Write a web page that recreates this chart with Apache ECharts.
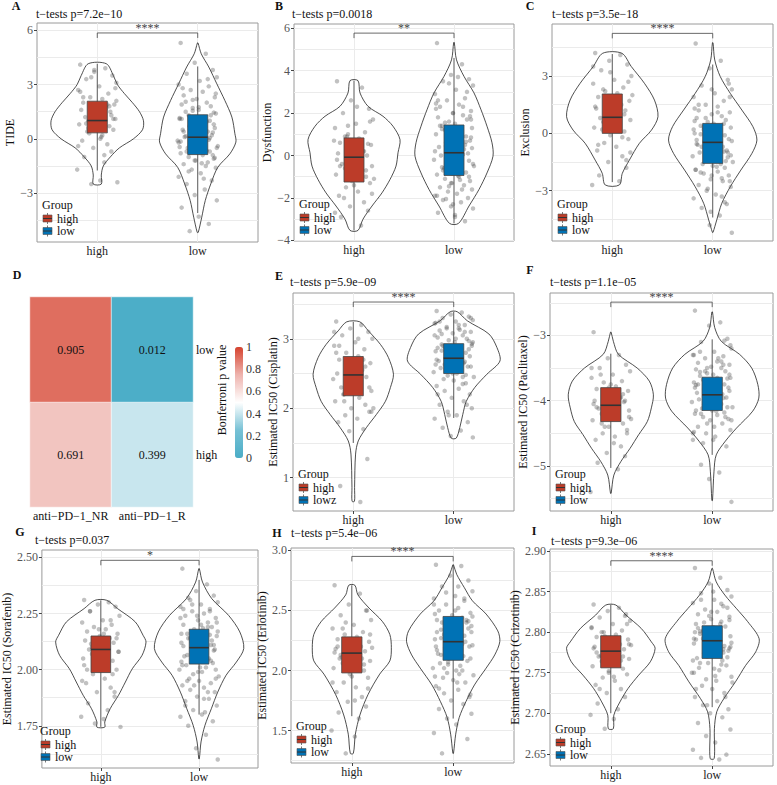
<!DOCTYPE html>
<html>
<head>
<meta charset="utf-8">
<script src="https://cdn.jsdelivr.net/npm/echarts@6/dist/echarts.min.js"></script>
<style>
  html, body { margin: 0; padding: 0; background: #fff; }
  #chart { width: 777px; height: 785px; }
</style>
</head>
<body>
<div id="chart"></div>
<script>
const groups = ['high', 'low'];
const highColor = '#BC3C29';
const lowColor = '#0072B5';
const font = '"Liberation Serif", "Times New Roman", serif';

// horizontal jitter of the points (x units, around each group centre)
const jitter = [-0.17,0.08,-0.03,0.15,-0.11,0.19,0.02,-0.19,0.11,-0.07,
  0.05,-0.14,0.17,-0.01,0.09,-0.16,0.13,-0.05,0.01,-0.12,
  0.18,-0.09,0.06,-0.18,0.12,-0.02,0.16,-0.08,0.04,-0.15,
  0.10,-0.04,0.14,-0.13,0.07,-0.20,0.03,-0.06,0.20,-0.10,
  0.00,0.12,-0.17,0.05,-0.09,0.16,-0.02,0.10,-0.14,0.18,
  -0.06,0.03,-0.19,0.14,-0.11,0.07,-0.03,0.19,-0.16,0.01,
  0.11,-0.08,0.15,-0.12,0.04,-0.18,0.09,-0.05,0.17,-0.01];

// ---- A: TIDE ----  violin = [value, half width], box = [lowW, q1, median, q3, highW]
const tideHighViolin = [[-2.5,0.04],[-2.0,0.04],[-1.5,0.06],[-1.0,0.13],[-0.5,0.22],[0,0.36],[0.5,0.45],[1.0,0.46],[1.5,0.42],[2.0,0.35],[2.5,0.27],[3.0,0.2],[3.5,0.16],[4.15,0.09]];
const tideLowViolin = [[-5.17,0.005],[-4.33,0.04],[-3.41,0.075],[-2.49,0.13],[-1.57,0.2],[-0.83,0.32],[-0.18,0.38],[0.28,0.37],[1.2,0.34],[2.12,0.27],[3.04,0.19],[3.97,0.11],[4.7,0.035],[5.3,0.003]];
const tideHighBox = [-1.75, 0.33, 1.01, 2.08, 4.15];
const tideLowBox = [-4.1, -0.87, 0.09, 1.33, 4.0];
const tideHighPts = [4.1,3.9,3.7,3.5,3.3,3.1,2.9,2.7,2.5,2.3,2.2,2.0,1.9,1.8,1.7,1.6,1.5,1.4,1.3,1.2,1.1,1.0,0.9,0.8,0.7,0.6,0.5,0.3,0.1,-0.1,-0.3,-0.5,-0.7,-1.0,-1.3,-1.7,-2.3,-2.5,-2.4,0.4,1.0,1.8,2.6,
  0.2,0.6,1.1,1.5,1.9,2.3,2.8,3.4,0.0,-0.4,1.3,0.85,-0.9,3.8,2.1];
const tideLowPts = [5.3,4.7,4.2,3.8,3.6,3.4,3.2,3.0,2.9,2.7,2.6,2.4,2.3,2.2,2.0,1.9,1.8,1.7,1.6,1.5,1.4,1.3,1.2,1.1,1.0,0.9,0.8,0.7,0.6,0.5,0.4,0.3,0.2,0.1,0.0,-0.1,-0.2,-0.3,-0.4,-0.5,-0.6,-0.7,-0.8,-0.9,-1.0,-1.1,-1.2,-1.3,-1.4,-1.6,-1.7,-1.9,-2.1,-2.3,-2.5,-2.8,-3.1,-3.4,-3.8,-4.3,-4.7,-5.1,0.35,0.15,-0.25,1.15,-0.65,2.15,-1.05,0.55,-0.15,
  -1.5,-1.2,-0.9,-0.7,-0.5,-0.35,-0.2,-0.05,0.1,0.25,0.4,0.6,0.75,0.95,1.1,1.3,1.55,1.75,2.05,2.5,-1.8,-2.2,-0.45,0.05,0.7,1.45,-0.75,-1.35,2.8,3.3];

// ---- B: Dysfunction ----
const dysHighViolin = [[-3.53,0.04],[-3.0,0.09],[-2.38,0.18],[-1.76,0.28],[-1.13,0.36],[-0.5,0.42],[0.13,0.44],[0.75,0.46],[1.38,0.39],[1.85,0.29],[2.32,0.14],[2.95,0.06],[3.53,0.04]];
const dysLowViolin = [[-3.2,0.045],[-2.38,0.15],[-1.6,0.25],[-0.82,0.33],[-0.03,0.39],[0.6,0.38],[1.38,0.33],[2.16,0.27],[2.95,0.2],[3.73,0.1],[4.51,0.025],[5.33,0.003]];
const dysHighBox = [-3.53, -1.25, -0.08, 0.83, 3.53];
const dysLowBox = [-3.2, -0.94, 0.13, 1.44, 4.6];
const dysHighPts = [3.5,3.2,2.6,2.2,2.0,1.7,1.5,1.3,1.1,0.9,0.8,0.6,0.5,0.3,0.2,0.1,0.0,-0.1,-0.2,-0.4,-0.5,-0.6,-0.8,-0.9,-1.0,-1.2,-1.3,-1.5,-1.7,-1.9,-2.2,-2.4,-2.6,-2.9,-3.3,0.7,-0.3,1.4,-1.1,
  -2.0,-1.4,-0.7,-0.2,0.4,0.9,1.6,-1.0,0.2,-0.5,-1.8,1.0,2.3,-2.7,0.55];
const dysLowPts = [5.3,4.3,3.8,3.6,3.5,3.3,3.1,2.9,2.7,2.6,2.4,2.3,2.1,2.0,1.9,1.8,1.7,1.6,1.5,1.4,1.3,1.2,1.1,1.0,0.9,0.8,0.7,0.6,0.5,0.4,0.3,0.2,0.1,0.0,-0.1,-0.2,-0.3,-0.4,-0.5,-0.6,-0.7,-0.8,-0.9,-1.0,-1.1,-1.2,-1.3,-1.4,-1.5,-1.6,-1.7,-1.8,-1.9,-2.0,-2.1,-2.2,-2.4,-2.5,-2.7,-2.9,-3.1,0.45,-0.25,1.25,-0.95,2.2,0.05,-1.45,0.85,
  -2.3,-1.9,-1.6,-1.3,-1.0,-0.7,-0.4,-0.1,0.2,0.5,0.8,1.1,1.4,1.7,2.0,2.3,2.6,3.0,3.4,-2.8,-0.55,0.35,1.55,-1.15,2.45,0.65,-0.85,1.85,-2.05,3.7];

// ---- C: Exclusion ----
const excHighViolin = [[-2.7,0.07],[-2.09,0.1],[-1.4,0.17],[-0.52,0.27],[0.17,0.39],[0.87,0.455],[1.74,0.42],[2.62,0.32],[3.49,0.19],[4.19,0.095]];
const excLowViolin = [[-5.18,0.003],[-4.53,0.04],[-3.66,0.09],[-2.79,0.175],[-1.92,0.28],[-1.05,0.39],[-0.35,0.44],[0.35,0.4],[1.22,0.29],[2.09,0.175],[2.97,0.075],[3.84,0.02],[4.74,0.003]];
const excHighBox = [-2.55, 0.0, 0.84, 2.06, 4.15];
const excLowBox = [-4.4, -1.57, -0.47, 0.52, 3.6];
const excHighPts = [4.2,4.1,3.8,3.6,3.3,3.0,2.8,2.6,2.4,2.2,2.1,1.9,1.7,1.6,1.5,1.3,1.2,1.0,0.9,0.8,0.7,0.6,0.4,0.3,0.1,-0.1,-0.3,-0.5,-0.7,-0.9,-1.2,-1.5,-1.8,-2.2,-2.5,-2.7,1.1,0.5,2.0,
  0.2,0.6,1.0,1.4,1.8,2.3,2.7,3.2,-0.2,-0.6,-1.0,1.6,0.8,3.5,-1.4];
const excLowPts = [4.7,3.8,3.4,2.8,2.5,2.3,2.1,1.9,1.7,1.5,1.4,1.2,1.1,1.0,0.9,0.8,0.7,0.6,0.5,0.4,0.3,0.2,0.1,0.0,-0.1,-0.2,-0.3,-0.4,-0.5,-0.6,-0.7,-0.8,-0.9,-1.0,-1.1,-1.2,-1.3,-1.4,-1.5,-1.6,-1.7,-1.8,-1.9,-2.0,-2.1,-2.2,-2.4,-2.5,-2.7,-2.8,-3.0,-3.2,-3.4,-3.7,-3.9,-4.3,-4.8,-5.2,-0.35,-0.65,-0.95,0.25,-1.25,-0.05,-1.75,0.65,-2.35,
  -2.9,-2.5,-2.2,-1.9,-1.6,-1.3,-1.0,-0.7,-0.4,-0.1,0.2,0.5,0.8,1.1,1.5,1.9,2.3,-3.3,-0.55,-1.45,-0.85,0.05,-2.05,-1.15,0.35,-0.25,1.3,-3.6,-4.1,2.6];

// ---- E: Cisplatin ----
const cisHighViolin = [[0.66,0.012],[0.86,0.013],[1.34,0.023],[1.53,0.05],[1.72,0.13],[1.91,0.23],[2.1,0.32],[2.3,0.37],[2.49,0.4],[2.73,0.35],[2.92,0.27],[3.115,0.15],[3.245,0.065]];
const cisLowViolin = [[1.57,0.025],[1.72,0.06],[1.91,0.09],[2.1,0.125],[2.3,0.21],[2.49,0.33],[2.68,0.46],[2.875,0.43],[3.07,0.35],[3.26,0.135],[3.39,0.035]];
const cisHighBox = [1.5, 2.18, 2.48, 2.745, 3.245];
const cisLowBox = [1.86, 2.5, 2.72, 2.93, 3.39];
const cisHighPts = [3.25,3.2,3.15,3.1,3.05,3.0,2.95,2.9,2.85,2.8,2.75,2.7,2.65,2.6,2.55,2.5,2.45,2.4,2.35,2.3,2.25,2.2,2.15,2.1,2.05,2.0,1.95,1.9,1.85,1.8,1.7,1.67,1.27,0.88,0.65,2.42,2.62,2.28,
  2.0,2.2,2.4,2.6,2.8,3.0,2.1,2.3,2.5,2.7,2.9,1.95,2.55,2.35,3.1];
const cisLowPts = [3.4,3.38,3.35,3.32,3.3,3.27,3.25,3.22,3.2,3.17,3.15,3.12,3.1,3.08,3.05,3.02,3.0,2.98,2.95,2.92,2.9,2.88,2.85,2.82,2.8,2.78,2.75,2.72,2.7,2.68,2.65,2.62,2.6,2.58,2.55,2.52,2.5,2.47,2.45,2.42,2.4,2.36,2.32,2.28,2.25,2.2,2.15,2.1,2.05,2.0,1.95,1.9,1.85,1.8,1.72,1.68,1.6,1.58,2.87,2.77,2.67,2.57,2.97,3.07,2.53,2.63,
  2.45,2.55,2.6,2.65,2.7,2.75,2.8,2.85,2.9,2.95,3.0,3.05,3.1,3.15,3.2,3.25,3.3,2.5,2.35,2.2,2.05,1.9,2.73,2.83,2.93,2.63,3.13,3.23,2.48,2.78];

// ---- F: Paclitaxel ----
const pacHighViolin = [[-5.42,0.003],[-5.14,0.03],[-4.93,0.1],[-4.73,0.19],[-4.52,0.275],[-4.32,0.36],[-4.11,0.4],[-3.91,0.42],[-3.7,0.38],[-3.5,0.26],[-3.29,0.075],[-3.09,0.025],[-2.95,0.003]];
const pacLowViolin = [[-5.53,0.003],[-5.08,0.018],[-4.83,0.04],[-4.62,0.13],[-4.42,0.24],[-4.16,0.4],[-3.96,0.46],[-3.75,0.45],[-3.5,0.39],[-3.29,0.27],[-3.09,0.09],[-2.88,0.025],[-2.64,0.003]];
const pacHighBox = [-5.03, -4.32, -4.07, -3.8, -3.28];
const pacLowBox = [-4.83, -4.15, -3.91, -3.64, -3.06];
const pacHighPts = [-2.95,-3.3,-3.35,-3.45,-3.5,-3.55,-3.6,-3.65,-3.7,-3.72,-3.78,-3.82,-3.85,-3.9,-3.95,-4.0,-4.02,-4.05,-4.1,-4.12,-4.15,-4.2,-4.25,-4.3,-4.35,-4.4,-4.45,-4.5,-4.55,-4.6,-4.7,-4.8,-4.85,-4.95,-5.05,-5.4,-3.88,-4.08,-4.28,
  -3.6,-3.75,-3.9,-4.05,-4.2,-4.35,-4.5,-3.8,-3.95,-4.1,-4.25,-4.4,-4.65,-3.5,-4.0];
const pacLowPts = [-2.62,-2.8,-2.85,-3.05,-3.1,-3.2,-3.25,-3.3,-3.32,-3.35,-3.4,-3.42,-3.45,-3.48,-3.5,-3.52,-3.55,-3.58,-3.6,-3.62,-3.65,-3.68,-3.7,-3.72,-3.75,-3.78,-3.8,-3.82,-3.85,-3.88,-3.9,-3.92,-3.95,-3.98,-4.0,-4.02,-4.05,-4.08,-4.1,-4.12,-4.15,-4.18,-4.2,-4.22,-4.25,-4.28,-4.3,-4.35,-4.4,-4.45,-4.5,-4.55,-4.6,-4.7,-4.98,-5.1,-5.2,-5.55,-3.76,-3.86,-3.96,-4.06,-3.66,-3.56,-4.16,
  -3.3,-3.4,-3.5,-3.6,-3.7,-3.8,-3.9,-4.0,-4.1,-4.2,-4.3,-4.4,-4.5,-3.45,-3.55,-3.65,-3.75,-3.85,-3.95,-4.05,-4.15,-4.25,-4.35,-4.6,-3.25,-3.15,-4.65,-3.35,-4.48,-3.08];

// ---- G: Sorafenib ----
const sorHighViolin = [[1.744,0.04],[1.767,0.04],[1.826,0.095],[1.886,0.18],[1.945,0.25],[2.004,0.32],[2.064,0.42],[2.123,0.46],[2.153,0.43],[2.213,0.35],[2.272,0.17],[2.309,0.06]];
const sorLowViolin = [[1.603,0.003],[1.678,0.02],[1.752,0.06],[1.826,0.125],[1.9,0.19],[1.975,0.275],[2.034,0.38],[2.094,0.455],[2.168,0.415],[2.242,0.3],[2.316,0.13],[2.39,0.035],[2.45,0.003]];
const sorHighBox = [1.745, 1.987, 2.09, 2.15, 2.309];
const sorLowBox = [1.8, 2.025, 2.098, 2.18, 2.4];
const sorHighPts = [2.31,2.3,2.29,2.28,2.26,2.24,2.22,2.21,2.2,2.19,2.18,2.17,2.16,2.15,2.14,2.13,2.12,2.11,2.1,2.09,2.08,2.07,2.06,2.05,2.04,2.02,2.0,1.98,1.96,1.94,1.92,1.9,1.88,1.85,1.82,1.79,1.78,1.76,1.745,2.115,2.065,
  1.98,2.02,2.06,2.1,2.14,2.18,2.22,2.0,2.08,2.12,2.16,1.95,1.9,2.26,2.04];
const sorLowPts = [2.45,2.38,2.35,2.33,2.32,2.3,2.29,2.28,2.27,2.26,2.25,2.24,2.23,2.22,2.21,2.2,2.19,2.18,2.17,2.16,2.15,2.14,2.13,2.12,2.11,2.1,2.09,2.08,2.07,2.06,2.05,2.04,2.03,2.02,2.01,2.0,1.99,1.98,1.97,1.96,1.95,1.94,1.93,1.92,1.91,1.9,1.88,1.87,1.86,1.84,1.82,1.8,1.79,1.77,1.75,1.71,1.65,1.6,2.105,2.095,2.155,2.125,2.085,2.065,2.185,2.035,
  1.9,1.93,1.96,1.99,2.02,2.05,2.08,2.11,2.14,2.17,2.2,2.23,2.26,2.29,1.87,1.84,2.0,2.1,2.19,2.27,2.13,2.07,2.01,1.95,2.21,2.31,1.81,2.16,2.04,2.24];

// ---- H: Erlotinib ----
const erlHighViolin = [[1.31,0.015],[1.47,0.035],[1.63,0.08],[1.8,0.16],[1.97,0.275],[2.08,0.375],[2.19,0.39],[2.3,0.375],[2.41,0.3],[2.52,0.17],[2.63,0.06],[2.71,0.03]];
const erlLowViolin = [[1.31,0.003],[1.47,0.025],[1.61,0.06],[1.74,0.125],[1.88,0.21],[2.02,0.325],[2.13,0.41],[2.24,0.46],[2.33,0.44],[2.47,0.325],[2.58,0.19],[2.69,0.11],[2.8,0.035],[2.88,0.003]];
const erlHighBox = [1.62, 1.98, 2.145, 2.28, 2.71];
const erlLowBox = [1.6, 2.085, 2.24, 2.45, 2.88];
const erlHighPts = [2.71,2.64,2.55,2.5,2.46,2.42,2.38,2.35,2.32,2.3,2.28,2.26,2.24,2.22,2.2,2.18,2.16,2.14,2.12,2.1,2.08,2.06,2.04,2.02,2.0,1.97,1.94,1.9,1.86,1.82,1.78,1.74,1.7,1.65,1.6,1.5,1.45,1.31,2.19,2.11,
  1.95,2.05,2.15,2.25,2.35,1.85,2.0,2.1,2.2,2.3,2.4,1.75,1.9,2.5,2.13];
const erlLowPts = [2.88,2.87,2.79,2.75,2.7,2.66,2.62,2.6,2.58,2.55,2.52,2.5,2.48,2.46,2.44,2.42,2.4,2.38,2.36,2.34,2.32,2.3,2.28,2.26,2.24,2.22,2.2,2.18,2.16,2.14,2.12,2.1,2.08,2.06,2.04,2.02,2.0,1.98,1.96,1.94,1.92,1.9,1.87,1.84,1.81,1.78,1.75,1.72,1.68,1.64,1.6,1.55,1.48,1.43,1.31,2.25,2.27,2.21,2.17,2.35,2.29,2.19,2.41,2.13,
  1.9,1.95,2.0,2.05,2.1,2.15,2.2,2.25,2.3,2.35,2.4,2.45,2.5,2.55,2.6,2.65,2.7,1.85,1.8,2.12,2.22,2.32,2.42,2.07,2.17,2.27,2.37,2.02,1.97,2.47];

// ---- I: Crizotinib ----
const crzHighViolin = [[2.681,0.025],[2.6977,0.03],[2.714,0.09],[2.7306,0.17],[2.747,0.275],[2.7635,0.39],[2.78,0.437],[2.788,0.4],[2.8046,0.3],[2.821,0.15],[2.8334,0.05]];
const crzLowViolin = [[2.6442,0.02],[2.681,0.022],[2.7018,0.045],[2.718,0.115],[2.7388,0.23],[2.759,0.33],[2.7758,0.43],[2.792,0.463],[2.813,0.35],[2.829,0.24],[2.8457,0.125],[2.862,0.04],[2.8786,0.003]];
const crzHighBox = [2.7, 2.756, 2.7766, 2.7956, 2.834];
const crzLowBox = [2.7075, 2.7676, 2.7894, 2.8079, 2.86];
const crzHighPts = [2.834,2.83,2.826,2.822,2.818,2.814,2.81,2.806,2.802,2.8,2.797,2.794,2.791,2.788,2.785,2.782,2.779,2.776,2.773,2.77,2.767,2.764,2.761,2.758,2.755,2.752,2.748,2.744,2.74,2.735,2.73,2.725,2.72,2.712,2.705,2.698,2.693,2.681,2.784,2.771,
  2.76,2.77,2.78,2.79,2.8,2.81,2.75,2.765,2.775,2.785,2.795,2.745,2.805,2.82,2.73];
const crzLowPts = [2.879,2.867,2.86,2.852,2.848,2.844,2.84,2.836,2.832,2.828,2.825,2.822,2.819,2.816,2.813,2.81,2.807,2.804,2.801,2.798,2.795,2.792,2.789,2.786,2.783,2.78,2.777,2.774,2.771,2.768,2.765,2.762,2.759,2.756,2.753,2.75,2.746,2.742,2.738,2.734,2.73,2.725,2.72,2.715,2.71,2.705,2.7,2.695,2.688,2.68,2.672,2.664,2.655,2.649,2.645,2.643,2.797,2.787,2.791,2.806,2.779,2.812,2.769,2.801,
  2.74,2.75,2.76,2.77,2.78,2.79,2.8,2.81,2.82,2.83,2.84,2.745,2.755,2.765,2.775,2.785,2.795,2.805,2.815,2.825,2.835,2.73,2.72,2.71,2.85,2.762,2.782,2.802,2.772,2.792];

// ---- D: heatmap ----
const heatCols = ['anti−PD−1_NR', 'anti−PD−1_R'];
const heatRows = ['high', 'low'];
const heatValues = [[0.691, 0.399], [0.905, 0.012]]; // rows: high, low
const colorbarTicks = [0, 0.2, 0.4, 0.6, 0.8, 1];

const panels = [
  { tag: 'A', box: [37, 23, 221, 219], range: [-5.7, 6.4], majors: [-3, 0, 3, 6], minors: [-4.5, -1.5, 1.5, 4.5], dec: 0,
    letter: [16, 6], title: [36, 14], p: 't−tests p=7.2e−10', yName: 'TIDE', gap: 18, bracket: 5.85, stars: '****', lowName: 'low',
    hv: tideHighViolin, lv: tideLowViolin, hb: tideHighBox, lb: tideLowBox, hp: tideHighPts, lp: tideLowPts },
  { tag: 'B', box: [294, 24, 220, 217], range: [-4.03, 6.2], majors: [-4, -2, 0, 2, 4, 6], minors: [-3, -1, 1, 3, 5], dec: 0,
    letter: [279, 6], title: [292, 14], p: 't−tests p=0.0018', yName: 'Dysfunction', gap: 18, bracket: 5.77, stars: '**', lowName: 'low',
    hv: dysHighViolin, lv: dysLowViolin, hb: dysHighBox, lb: dysLowBox, hp: dysHighPts, lp: dysLowPts },
  { tag: 'C', box: [552, 24, 221, 217], range: [-5.63, 5.72], majors: [-3, 0, 3], minors: [-4.5, -1.5, 1.5, 4.5], dec: 0,
    letter: [530, 6], title: [552, 14], p: 't−tests p=3.5e−18', yName: 'Exclusion', gap: 16, bracket: 5.23, stars: '****', lowName: 'low',
    hv: excHighViolin, lv: excLowViolin, hb: excHighBox, lb: excLowBox, hp: excHighPts, lp: excLowPts },
  { tag: 'E', box: [293, 293, 221, 218], range: [0.52, 3.66], majors: [1, 2, 3], minors: [1.5, 2.5, 3.5], dec: 0,
    letter: [279, 276], title: [290, 282], p: 't−tests p=5.9e−09', yName: 'Estimated IC50 (Cisplatin)', gap: 8, bracket: 3.53, stars: '****', lowName: 'lowz',
    hv: cisHighViolin, lv: cisLowViolin, hb: cisHighBox, lb: cisLowBox, hp: cisHighPts, lp: cisLowPts },
  { tag: 'F', box: [550, 293, 223, 218], range: [-5.69, -2.35], majors: [-5, -4, -3], minors: [-5.5, -4.5, -3.5, -2.5], dec: 0,
    letter: [530, 270], title: [550, 282], p: 't−tests p=1.1e−05', yName: 'Estimated IC50 (Paclitaxel)', gap: 16, bracket: -2.49, stars: '****', lowName: 'low',
    hv: pacHighViolin, lv: pacLowViolin, hb: pacHighBox, lb: pacLowBox, hp: pacHighPts, lp: pacLowPts },
  { tag: 'G', box: [35, 550, 223, 218], range: [1.562, 2.533], majors: [1.75, 2, 2.25, 2.5], minors: [1.625, 1.875, 2.125, 2.375], dec: 2,
    letter: [20, 532], title: [35, 540], p: 't−tests p=0.037', yName: 'Estimated IC50 (Sorafenib)', gap: 23, bracket: 2.487, stars: '*', lowName: 'low',
    hv: sorHighViolin, lv: sorLowViolin, hb: sorHighBox, lb: sorLowBox, hp: sorHighPts, lp: sorLowPts },
  { tag: 'H', box: [291, 548, 223, 215], range: [1.23, 3.02], majors: [1.5, 2, 2.5, 3], minors: [1.25, 1.75, 2.25, 2.75], dec: 1,
    letter: [277, 533], title: [291, 533], p: 't−tests p=5.4e−06', yName: 'Estimated IC50 (Erlotinib)', gap: 15, bracket: 2.95, stars: '****', lowName: 'low',
    hv: erlHighViolin, lv: erlLowViolin, hb: erlHighBox, lb: erlLowBox, hp: erlHighPts, lp: erlLowPts },
  { tag: 'I', box: [550, 549, 223, 217], range: [2.635, 2.9025], majors: [2.65, 2.7, 2.75, 2.8, 2.85, 2.9], minors: [2.675, 2.725, 2.775, 2.825, 2.875], dec: 2,
    letter: [534, 531], title: [551, 541], p: 't−tests p=9.3e−06', yName: 'Estimated IC50 (Crizotinib)', gap: 20, bracket: 2.888, stars: '****', lowName: 'low',
    hv: crzHighViolin, lv: crzLowViolin, hb: crzHighBox, lb: crzLowBox, hp: crzHighPts, lp: crzLowPts }
];

function fmt(v, dec) {
  const s = Math.abs(v).toFixed(dec);
  return v < -1e-9 ? '−' + s : s;
}

function violin(xi, yi, cx, prof) {
  return {
    type: 'custom', xAxisIndex: xi, yAxisIndex: yi, z: 1, silent: true,
    itemStyle: { color: '#222' },
    data: [[cx, prof[0][0]]],
    renderItem(params, api) {
      const right = prof.map(r => api.coord([cx + r[1], r[0]]));
      const left = prof.slice().reverse().map(r => api.coord([cx - r[1], r[0]]));
      return {
        type: 'polygon',
        shape: { points: right.concat(left), smooth: 0.3 },
        style: { fill: '#fff', stroke: '#222', lineWidth: 0.8 }
      };
    }
  };
}

function jitterPoints(xi, yi, cx, pts) {
  return {
    type: 'scatter', xAxisIndex: xi, yAxisIndex: yi, z: 2, silent: true,
    symbolSize: 4.5,
    itemStyle: { color: 'rgba(70,70,70,0.42)' },
    data: pts.map((y, i) => [cx + jitter[i % jitter.length], y])
  };
}

function boxplot(xi, yi, cx, b, color) {
  return {
    type: 'custom', xAxisIndex: xi, yAxisIndex: yi, z: 3, silent: true,
    itemStyle: { color: color },
    data: [[cx, b[2]]],
    renderItem(params, api) {
      const top = api.coord([cx, b[4]]), bot = api.coord([cx, b[0]]);
      const a = api.coord([cx - 0.1, b[3]]), c = api.coord([cx + 0.1, b[1]]);
      const m1 = api.coord([cx - 0.1, b[2]]), m2 = api.coord([cx + 0.1, b[2]]);
      return {
        type: 'group',
        children: [
          { type: 'line', shape: { x1: top[0], y1: top[1], x2: bot[0], y2: bot[1] }, style: { stroke: '#444', lineWidth: 0.9 } },
          { type: 'rect', shape: { x: a[0], y: a[1], width: c[0] - a[0], height: c[1] - a[1] }, style: { fill: color, stroke: '#444', lineWidth: 0.8 } },
          { type: 'line', shape: { x1: m1[0], y1: m1[1], x2: m2[0], y2: m2[1] }, style: { stroke: '#333', lineWidth: 1.6 } }
        ]
      };
    }
  };
}

function bracket(xi, yi, y, stars) {
  return {
    type: 'custom', xAxisIndex: xi, yAxisIndex: yi, z: 4, silent: true,
    itemStyle: { color: '#444' },
    data: [[1.5, y]],
    renderItem(params, api) {
      const p1 = api.coord([1, y]), p2 = api.coord([2, y]);
      return {
        type: 'group',
        children: [
          { type: 'polyline', shape: { points: [[p1[0], p1[1] + 5], p1, p2, [p2[0], p2[1] + 5]] }, style: { stroke: '#444', lineWidth: 0.8, fill: null } },
          { type: 'text', x: (p1[0] + p2[0]) / 2, y: p1[1] + 1, style: { text: stars, align: 'center', verticalAlign: 'bottom', fontSize: 12, fontFamily: font, fill: '#444' } }
        ]
      };
    }
  };
}

const option = {
  backgroundColor: '#fff',
  animation: false,
  textStyle: { fontFamily: font },
  grid: [], xAxis: [], yAxis: [], series: [], graphic: [], visualMap: []
};

function txt(x, y, text, extra) {
  return { type: 'text', x: x, y: y, z: 100,
    style: Object.assign({ text: text, fontSize: 12, fontFamily: font, fill: '#111', align: 'left', verticalAlign: 'middle' }, extra || {}) };
}

panels.forEach(p => {
  const gi = option.grid.length;
  const [gl, gt, gw, gh] = p.box;
  option.grid.push({ left: gl, top: gt, width: gw, height: gh, show: true, borderColor: '#9a9a9a', borderWidth: 1, backgroundColor: '#fff' });
  const xi = option.xAxis.length;
  option.xAxis.push({
    type: 'value', gridIndex: gi, min: 0.4, max: 2.6,
    axisLine: { show: false },
    axisTick: { customValues: [1, 2], length: 3, lineStyle: { color: '#444' } },
    axisLabel: { customValues: [1, 2], formatter: v => groups[Math.round(v) - 1], fontSize: 12, color: '#222', margin: 3, fontFamily: font },
    splitLine: { show: true, lineStyle: { color: '#ebebeb', width: 1 } }
  });
  const yi = option.yAxis.length;
  option.yAxis.push({
    type: 'value', gridIndex: gi, min: p.range[0], max: p.range[1],
    axisLine: { show: false },
    axisTick: { customValues: p.majors, length: 3, lineStyle: { color: '#444' } },
    axisLabel: { customValues: p.majors, formatter: v => fmt(v, p.dec), fontSize: 12, color: '#555', margin: 4, fontFamily: font },
    splitLine: { show: false },
    name: p.yName, nameLocation: 'middle', nameGap: p.gap,
    nameTextStyle: { fontSize: 12, color: '#111', fontFamily: font }
  });
  option.yAxis.push({
    type: 'value', gridIndex: gi, min: p.range[0], max: p.range[1],
    axisLine: { show: false },
    axisTick: { show: false, customValues: p.majors.concat(p.minors) },
    axisLabel: { show: false },
    splitLine: { show: true, lineStyle: { color: '#ebebeb', width: 1 } }
  });
  option.series.push(
    violin(xi, yi, 1, p.hv), violin(xi, yi, 2, p.lv),
    jitterPoints(xi, yi, 1, p.hp), jitterPoints(xi, yi, 2, p.lp),
    boxplot(xi, yi, 1, p.hb, highColor), boxplot(xi, yi, 2, p.lb, lowColor),
    bracket(xi, yi, p.bracket, p.stars)
  );

  // panel letter and test title
  option.graphic.push(txt(p.letter[0], p.letter[1], p.tag, { fontWeight: 'bold', align: 'center' }));
  option.graphic.push(txt(p.title[0], p.title[1], p.p));

  // legend inside the panel
  const lx = gl + 5, by = gt + gh;
  option.graphic.push(txt(lx, by - 37, 'Group'));
  [[highColor, 'high', by - 23.5], [lowColor, p.lowName, by - 11]].forEach(([c, name, cy]) => {
    option.graphic.push({ type: 'line', z: 100, shape: { x1: lx + 5.5, y1: cy - 5.5, x2: lx + 5.5, y2: cy + 5.5 }, style: { stroke: '#555', lineWidth: 0.8 } });
    option.graphic.push({ type: 'rect', z: 101, shape: { x: lx + 1, y: cy - 3.5, width: 9, height: 7 }, style: { fill: c, stroke: '#555', lineWidth: 0.6 } });
    option.graphic.push({ type: 'line', z: 102, shape: { x1: lx + 1, y1: cy, x2: lx + 10, y2: cy }, style: { stroke: '#333', lineWidth: 1 } });
    option.graphic.push(txt(lx + 15, cy, name));
  });
});

// ---- heatmap D ----
const hg = option.grid.length;
option.grid.push({ left: 30, top: 297, width: 163, height: 210, show: false });
const hx = option.xAxis.length;
option.xAxis.push({
  type: 'category', gridIndex: hg, data: heatCols,
  axisLine: { show: false }, axisTick: { show: false }, splitLine: { show: false },
  axisLabel: { interval: 0, fontSize: 12, color: '#111', margin: 3, fontFamily: font }
});
const hy = option.yAxis.length;
option.yAxis.push({
  type: 'category', gridIndex: hg, data: heatRows, position: 'right',
  axisLine: { show: false }, axisTick: { show: false }, splitLine: { show: false },
  axisLabel: { interval: 0, fontSize: 12, color: '#111', margin: 3, fontFamily: font }
});
const heatData = [];
heatRows.forEach((r, ri) => heatCols.forEach((c, ci) => heatData.push([ci, ri, heatValues[ri][ci]])));
const heatSeriesIndex = option.series.length;
option.series.push({
  type: 'heatmap', xAxisIndex: hx, yAxisIndex: hy, data: heatData,
  itemStyle: { borderColor: '#fff', borderWidth: 0.6 },
  label: { show: true, formatter: d => d.value[2].toFixed(3), fontSize: 12, color: '#111', fontFamily: font }
});
option.visualMap.push({
  type: 'continuous', min: 0, max: 1, seriesIndex: heatSeriesIndex,
  calculable: false, left: 235, top: 347, itemWidth: 8, itemHeight: 111, padding: 0,
  text: null, showLabel: false,
  inRange: { color: ['#4AADC7', '#77C1D5', '#FFFFFF', '#EEB3AD', '#D6432F'] }
});
// colour bar labels
const cg = option.grid.length;
option.grid.push({ left: 235, top: 347, width: 8, height: 111, show: false });
option.xAxis.push({ type: 'value', gridIndex: cg, show: false, min: 0, max: 1 });
option.yAxis.push({
  type: 'value', gridIndex: cg, min: 0, max: 1, position: 'right',
  axisLine: { show: false }, axisTick: { show: false }, splitLine: { show: false },
  axisLabel: { customValues: colorbarTicks, formatter: v => String(+v.toFixed(1)), fontSize: 12, color: '#333', margin: 3, fontFamily: font }
});
option.graphic.push(txt(17, 275, 'D', { fontWeight: 'bold', align: 'center' }));
const cbTitle = txt(222, 390, 'Bonferroni p value', { align: 'center' });
cbTitle.rotation = Math.PI / 2;
option.graphic.push(cbTitle);

const chart = echarts.init(document.getElementById('chart'), null, { renderer: 'svg' });
chart.setOption(option);
</script>
</body>
</html>
